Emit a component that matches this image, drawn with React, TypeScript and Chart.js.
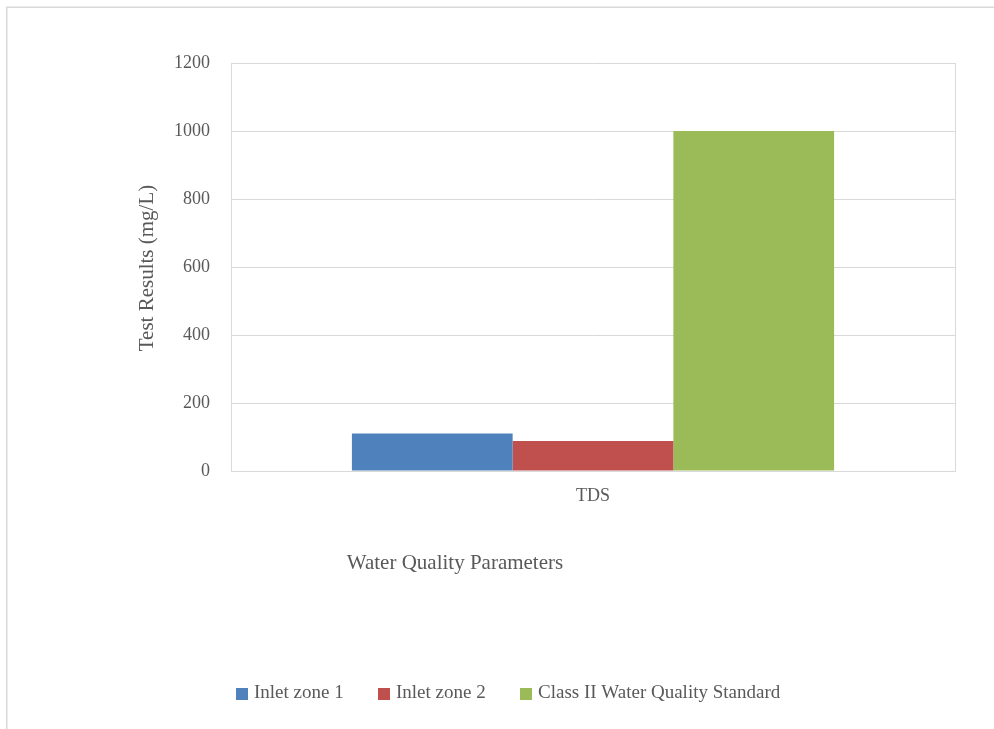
import React, { useEffect, useRef } from "react";
import { Chart, registerables } from "chart.js";

Chart.register(...registerables);

const categories = ["TDS"];
const seriesNames = ["Inlet zone 1", "Inlet zone 2", "Class II Water Quality Standard"];
const inletZone1 = [110];
const inletZone2 = [88];
const classIIStandard = [1000];
const seriesColors = ["#4F81BD", "#C0504D", "#9BBB59"];
const yTitle = "Test Results (mg/L)";
const xTitle = "Water Quality Parameters";

const FONT = "'Liberation Serif', 'Times New Roman', serif";
const TEXT = "#595959";
const GRID = "#D9D9D9";

const decorPlugin = {
  id: "decor",
  afterDraw(chart: any) {
    const ctx = chart.ctx as CanvasRenderingContext2D;
    ctx.save();
    // outer frame (top and left)
    ctx.strokeStyle = GRID;
    ctx.lineWidth = 1.5;
    ctx.beginPath();
    ctx.moveTo(6.75, 729);
    ctx.lineTo(6.75, 7.25);
    ctx.lineTo(994, 7.25);
    ctx.stroke();

    // y title
    ctx.fillStyle = TEXT;
    ctx.font = `21px ${FONT}`;
    ctx.textAlign = "center";
    ctx.textBaseline = "middle";
    ctx.save();
    ctx.translate(147, 268);
    ctx.rotate(-Math.PI / 2);
    ctx.fillText(yTitle, 0, 0);
    ctx.restore();

    // x title
    ctx.fillText(xTitle, 455, 563);

    // legend
    const sq = [236, 378, 520];
    ctx.font = `19px ${FONT}`;
    ctx.textAlign = "left";
    seriesNames.forEach((name, i) => {
      ctx.fillStyle = seriesColors[i];
      ctx.fillRect(sq[i], 688, 12, 12);
      ctx.fillStyle = TEXT;
      ctx.fillText(name, sq[i] + 18, 693);
    });
    ctx.restore();
  },
};

export default function App() {
  const ref = useRef<HTMLCanvasElement>(null);
  useEffect(() => {
    if (!ref.current) return;
    const chart = new Chart(ref.current, {
      type: "bar",
      data: {
        labels: categories,
        datasets: [
          { label: seriesNames[0], data: inletZone1, backgroundColor: seriesColors[0] },
          { label: seriesNames[1], data: inletZone2, backgroundColor: seriesColors[1] },
          { label: seriesNames[2], data: classIIStandard, backgroundColor: seriesColors[2] },
        ],
      },
      options: {
        responsive: false,
        animation: false,
        devicePixelRatio: 1,
        layout: { padding: { left: 0, top: 63, right: 39, bottom: 218 } },
        datasets: { bar: { categoryPercentage: 0.666, barPercentage: 1 } },
        plugins: { legend: { display: false }, tooltip: { enabled: false }, title: { display: false } },
        scales: {
          x: {
            afterFit: (s: any) => { s.height = 40; },
            grid: { color: GRID, drawTicks: false, offset: true },
            border: { color: GRID },
            ticks: { color: TEXT, font: { family: FONT, size: 18 }, padding: 14 },
          },
          y: {
            min: 0,
            max: 1200,
            afterFit: (s: any) => { s.width = 231; },
            grid: { color: GRID, drawTicks: false },
            border: { color: GRID },
            ticks: {
              stepSize: 200,
              color: TEXT,
              font: { family: FONT, size: 18 },
              padding: 21,
              callback: (v: any) => String(v),
            },
          },
        },
      },
      plugins: [decorPlugin],
    });
    return () => chart.destroy();
  }, []);
  return (
    <div style={{ position: "absolute", left: 0, top: 0, width: 994, height: 729, background: "#fff" }}>
      <canvas ref={ref} width={994} height={729} style={{ width: 994, height: 729, display: "block" }} />
    </div>
  );
}
